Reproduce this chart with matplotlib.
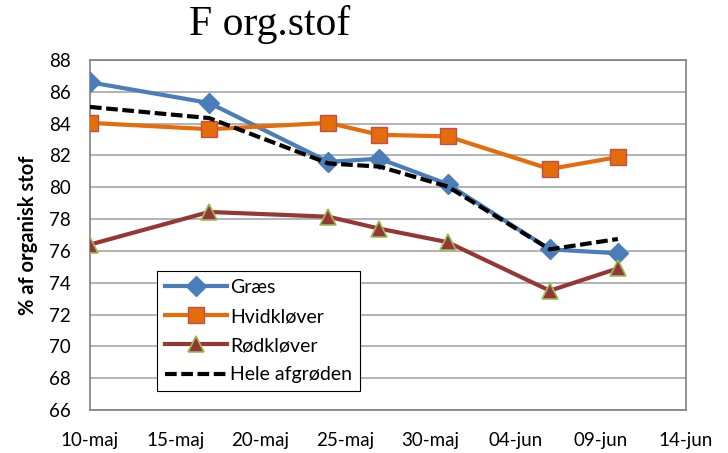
import datetime as dt
import matplotlib
matplotlib.use('Agg')
import matplotlib.pyplot as plt

# sampling dates and values (% organic matter)
dates = [dt.date(2010, 5, 10), dt.date(2010, 5, 17), dt.date(2010, 5, 24),
         dt.date(2010, 5, 27), dt.date(2010, 5, 31), dt.date(2010, 6, 6),
         dt.date(2010, 6, 10)]
graes = [86.6, 85.3, 81.6, 81.8, 80.2, 76.1, 75.85]
hvidklover = [84.05, 83.65, 84.05, 83.3, 83.2, 81.15, 81.9]
rodklover = [76.4, 78.45, 78.15, 77.4, 76.55, 73.5, 74.9]
hele = [85.05, 84.35, 81.5, 81.3, 80.05, 76.1, 76.75]

tick_dates = [dt.date(2010, 5, 10), dt.date(2010, 5, 15), dt.date(2010, 5, 20),
              dt.date(2010, 5, 25), dt.date(2010, 5, 30), dt.date(2010, 6, 4),
              dt.date(2010, 6, 9), dt.date(2010, 6, 14)]
tick_labels = ['10-maj', '15-maj', '20-maj', '25-maj', '30-maj', '04-jun', '09-jun', '14-jun']

plt.rcParams['font.family'] = ['Lato', 'DejaVu Sans']

fig = plt.figure(figsize=(7.28, 4.53), dpi=100)
ax = fig.add_axes([0.1236, 0.0949, 0.8187, 0.7726])

ax.plot(dates, graes, '-', color='#4A7EBB', linewidth=3, marker='D', markersize=10,
        markerfacecolor='#4A7EBB', markeredgecolor='#4A7EBB', label='Græs', zorder=3)
ax.plot(dates, hvidklover, '-', color='#E46C0A', linewidth=3, marker='s', markersize=11,
        markerfacecolor='#E46C0A', markeredgecolor='#C0504D', markeredgewidth=1, label='Hvidkløver', zorder=3)
ax.plot(dates, rodklover, '-', color='#953735', linewidth=3, marker='^', markersize=11,
        markerfacecolor='#953735', markeredgecolor='#9BBB59', markeredgewidth=1.2, label='Rødkløver', zorder=3)
ax.plot(dates, hele, '--', color='black', linewidth=3, dashes=(2.8, 1.1), label='Hele afgrøden', zorder=4)

ax.set_ylim(66, 88)
ax.set_yticks(range(66, 89, 2))
ax.set_xlim(dt.date(2010, 5, 10), dt.date(2010, 6, 14))
ax.set_xticks(tick_dates)
ax.set_xticklabels(tick_labels)
ax.tick_params(axis='both', labelsize=13.5, length=0)
ax.tick_params(axis='x', pad=16)
ax.tick_params(axis='y', pad=14)

ax.grid(True, axis='y', color='#A6A6A6', linewidth=1.2)
ax.set_axisbelow(True)
for sp in ax.spines.values():
    sp.set_color('#808080')
    sp.set_linewidth(1.2)

fig.text(28 / 728, 1 - 235 / 453, '% af organisk stof', fontsize=14.5, fontweight='bold',
         rotation=90, ha='center', va='center')

leg = ax.legend(loc='lower left', bbox_to_anchor=(0.1124, 0.054), borderaxespad=0,
                fontsize=14, fancybox=False, framealpha=1, edgecolor='black',
                handlelength=3.2, borderpad=0.4, labelspacing=0.62, handletextpad=0.15)
leg.get_frame().set_linewidth(0.8)

fig.text(270 / 728, 1 - 35 / 453, 'F org.stof', fontsize=30, family='Liberation Serif',
         ha='center', va='baseline')

fig.savefig('out.png', dpi=100)
